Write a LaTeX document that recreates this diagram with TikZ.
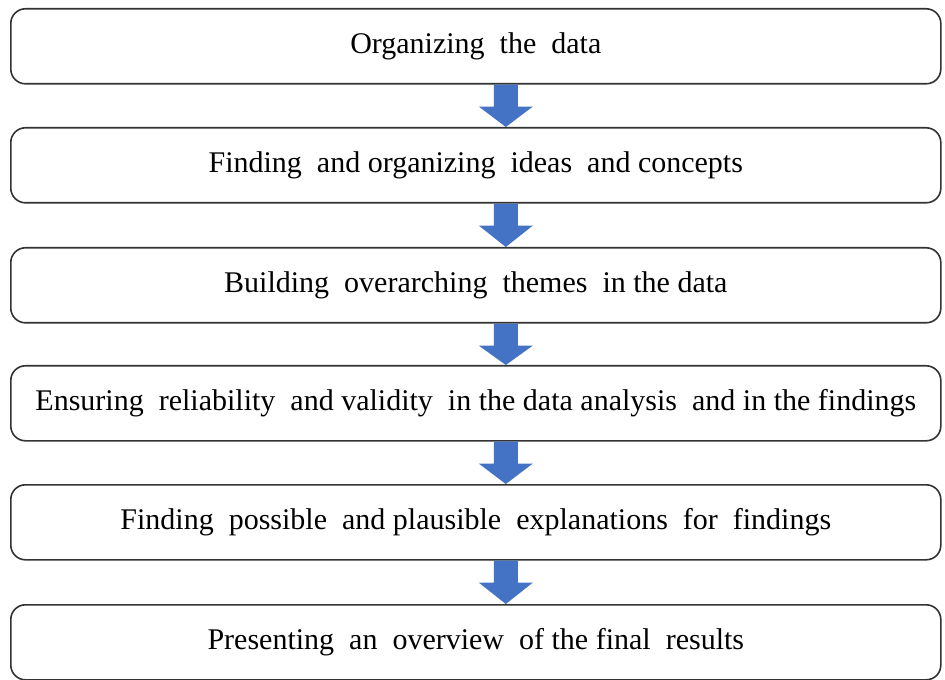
\documentclass[tikz,border=0pt]{standalone}
\usepackage{fontspec}
\setmainfont{Liberation Serif}
\begin{document}
\begin{tikzpicture}[x=0.75pt,y=-0.75pt,
  stepbox/.style={draw=black!80,line width=1.2pt,rounded corners=11pt,minimum width=930*0.75pt,minimum height=75*0.75pt,inner sep=0pt,font=\fontsize{22.5}{27}\selectfont,anchor=north west},
  bluearrow/.style={fill=arrowblue,draw=none}]
\definecolor{arrowblue}{HTML}{4472C4}
\useasboundingbox (0,0) rectangle (945,680);
\fill[white] (0,0) rectangle (945,680);
\node[stepbox] (b1) at (10,8) {Organizing\ \ the\ \ data};
\node[stepbox] (b2) at (10,127) {Finding\ \ and organizing\ \ ideas\ \ and concepts};
\node[stepbox] (b3) at (10,247) {Building\ \ overarching\ \ themes\ \ in the data};
\node[stepbox] (b4) at (10,365) {Ensuring\ \ reliability\ \ and validity\ \ in the data analysis\ \ and in the findings};
\node[stepbox] (b5) at (10,484) {Finding\ \ possible\ \ and plausible\ \ explanations\ \ for\ \ findings};
\node[stepbox] (b6) at (10,604) {Presenting\ \ an\ \ overview\ \ of the final\ \ results};
\foreach \a/\b in {b1/b2,b2/b3,b3/b4,b4/b5,b5/b6}{
  \path (\a.south) ++(30,0) coordinate (\a-s);
  \path (\b.north) ++(30,0) coordinate (\b-n);
  \fill[bluearrow] ([xshift=-12*0.75pt]\a-s) -- ([xshift=12*0.75pt]\a-s)
    -- ([xshift=12*0.75pt,yshift=-22*0.75pt]\a-s) -- ([xshift=27*0.75pt,yshift=-22*0.75pt]\a-s)
    -- (\b-n) -- ([xshift=-27*0.75pt,yshift=-22*0.75pt]\a-s) -- ([xshift=-12*0.75pt,yshift=-22*0.75pt]\a-s) -- cycle;
}
\end{tikzpicture}
\end{document}
